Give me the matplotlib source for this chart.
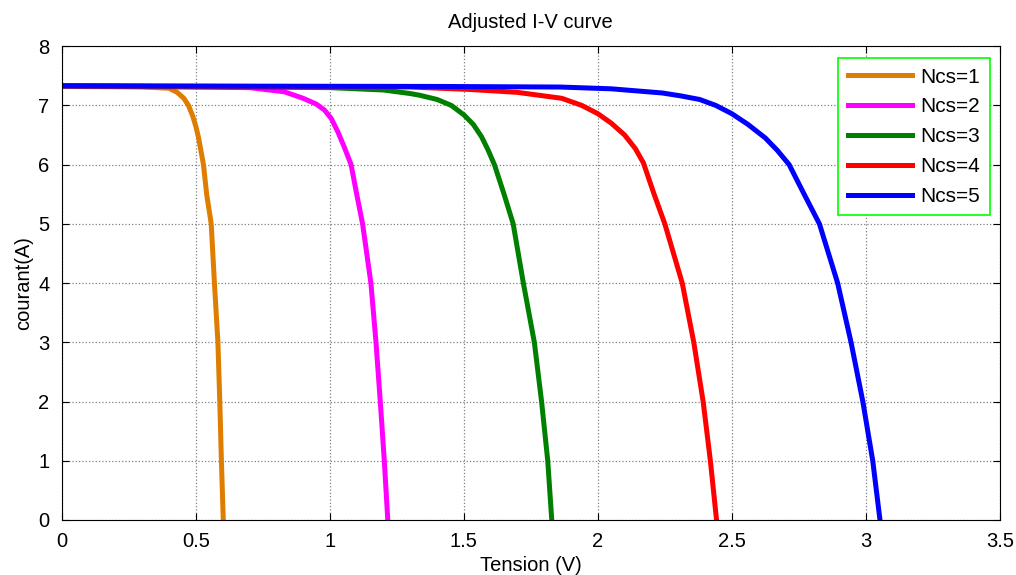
import numpy as np
import matplotlib.pyplot as plt

plt.rcParams['font.family'] = ['Liberation Sans', 'DejaVu Sans']

# Ncs = 1
v1 = [0.0, 0.30, 0.40, 0.43, 0.455, 0.472, 0.488, 0.50, 0.51, 0.518, 0.528, 0.54, 0.557, 0.569, 0.582, 0.589, 0.595, 0.602]
i1 = [7.32, 7.31, 7.29, 7.22, 7.12, 7.0, 6.82, 6.64, 6.45, 6.25, 6.0, 5.5, 5.0, 4.0, 3.0, 2.0, 1.0, 0.0]
# Ncs = 2
v2 = [0.0, 0.70, 0.83, 0.90, 0.95, 0.98, 1.005, 1.03, 1.055, 1.079, 1.10, 1.122, 1.153, 1.172, 1.188, 1.203, 1.216]
i2 = [7.33, 7.30, 7.23, 7.12, 7.02, 6.92, 6.78, 6.55, 6.28, 6.0, 5.5, 5.0, 4.0, 3.0, 2.0, 1.0, 0.0]
# Ncs = 3
v3 = [0.0, 1.0, 1.2, 1.30, 1.336, 1.40, 1.453, 1.50, 1.535, 1.566, 1.59, 1.614, 1.65, 1.684, 1.722, 1.763, 1.79, 1.813, 1.828]
i3 = [7.33, 7.30, 7.26, 7.2, 7.17, 7.1, 7.0, 6.84, 6.68, 6.47, 6.25, 6.0, 5.5, 5.0, 4.0, 3.0, 2.0, 1.0, 0.0]
# Ncs = 4
v4 = [0.0, 1.30, 1.52, 1.70, 1.865, 1.94, 2.0, 2.05, 2.10, 2.14, 2.17, 2.21, 2.25, 2.315, 2.358, 2.393, 2.42, 2.443]
i4 = [7.33, 7.31, 7.27, 7.22, 7.12, 7.0, 6.86, 6.7, 6.5, 6.27, 6.03, 5.5, 5.0, 4.0, 3.0, 2.0, 1.0, 0.0]
# Ncs = 5
v5 = [0.0, 1.40, 1.86, 2.05, 2.24, 2.31, 2.38, 2.44, 2.50, 2.56, 2.625, 2.67, 2.714, 2.77, 2.827, 2.895, 2.945, 2.989, 3.026, 3.053]
i5 = [7.33, 7.32, 7.31, 7.28, 7.21, 7.16, 7.1, 7.0, 6.86, 6.68, 6.45, 6.24, 6.0, 5.5, 5.0, 4.0, 3.0, 2.0, 1.0, 0.0]

labels = ['Ncs=1', 'Ncs=2', 'Ncs=3', 'Ncs=4', 'Ncs=5']
colors = ['#DE7D00', '#FF00FF', '#008000', '#FF0000', '#0000FF']

fig = plt.figure(figsize=(10.16, 5.75), dpi=100)
ax = fig.add_axes([0.061, 0.0957, 0.923, 0.824])

for v, i, c, lab in zip([v1, v2, v3, v4, v5], [i1, i2, i3, i4, i5], colors, labels):
    ax.plot(v, i, color=c, lw=3.6, label=lab, solid_joinstyle='round')

ax.set_xlim(0, 3.5)
ax.set_ylim(0, 8)
ax.set_xticks(np.arange(0, 3.51, 0.5))
ax.set_xticklabels(['0', '0.5', '1', '1.5', '2', '2.5', '3', '3.5'])
ax.set_yticks(range(0, 9))
ax.tick_params(direction='in', top=True, right=True, labelsize=14.5, length=5)
ax.tick_params(axis='x', pad=9)
ax.tick_params(axis='y', pad=9)
ax.grid(True, linestyle=':', color='#808080', lw=0.9)
ax.set_title('Adjusted I-V curve', fontsize=14.5, pad=13)
ax.set_xlabel('Tension (V)', fontsize=14.5, labelpad=3)
ax.set_ylabel('courant(A)', fontsize=14.5, labelpad=4)

leg = ax.legend(loc='upper right', bbox_to_anchor=(0.9893, 0.9747), borderaxespad=0,
                fontsize=15, fancybox=False, framealpha=1, edgecolor='#00FF00',
                handlelength=3.1, handletextpad=0.4, borderpad=0.45, labelspacing=0.52)
leg.get_frame().set_linewidth(1.2)

fig.savefig('out.png', dpi=100)
